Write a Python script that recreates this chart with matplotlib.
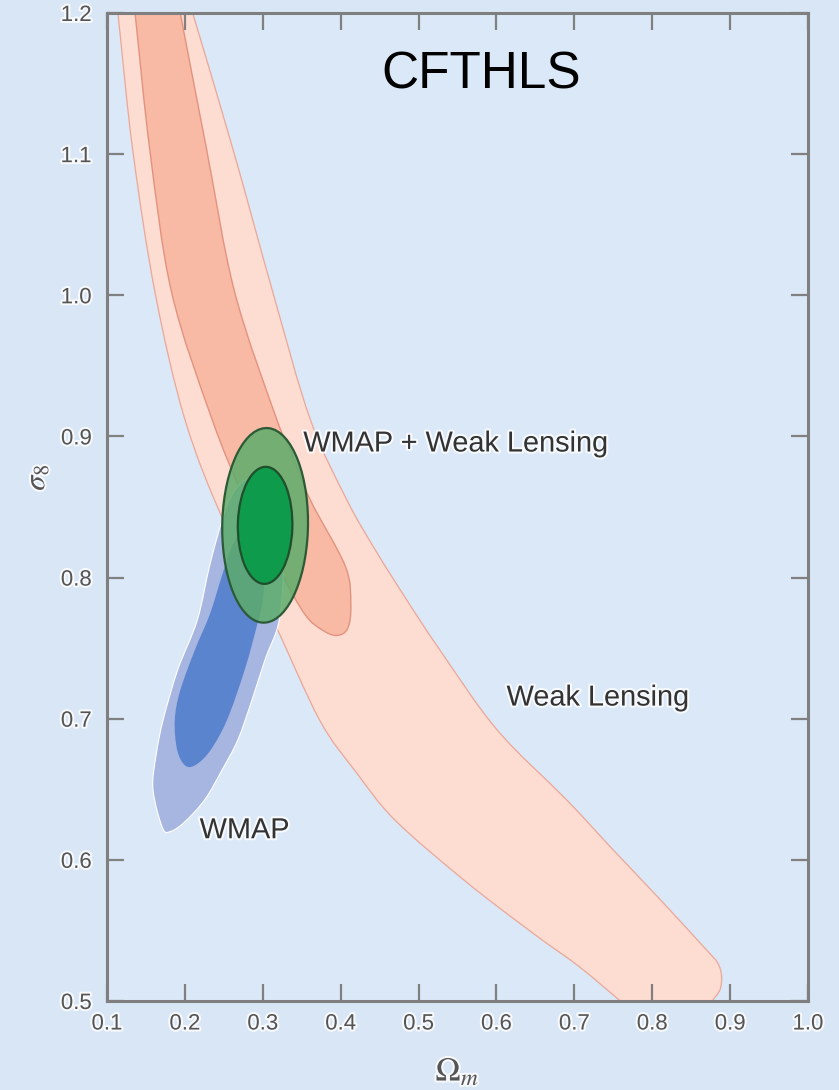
import matplotlib
matplotlib.use('Agg')
import matplotlib.pyplot as plt
import matplotlib.patheffects as pe
from matplotlib.patches import Ellipse, PathPatch
from matplotlib.path import Path
from matplotlib.colors import to_rgba
import numpy as np

plt.rcParams['font.family'] = ['Liberation Sans', 'DejaVu Sans']
plt.rcParams['mathtext.fontset'] = 'stix'

# weak lensing, outer (2 sigma) band: left edge going down, then right edge going up
wl_outer_om = [0.114, 0.133, 0.162, 0.200, 0.249, 0.313, 0.373, 0.420, 0.470, 0.562,
               0.647, 0.707, 0.759,
               0.877, 0.887, 0.889, 0.884, 0.870, 0.810, 0.750, 0.691, 0.601, 0.527,
               0.485, 0.444, 0.408, 0.361, 0.313, 0.262, 0.210]
wl_outer_s8 = [1.200, 1.103, 1.001, 0.912, 0.841, 0.770, 0.699, 0.662, 0.628, 0.584,
               0.548, 0.524, 0.500,
               0.500, 0.508, 0.518, 0.527, 0.536, 0.572, 0.607, 0.642, 0.692, 0.749,
               0.784, 0.820, 0.855, 0.912, 1.002, 1.103, 1.200]
wl_outer_corners = [0, 12, 13, 29]   # where the band meets the frame

# weak lensing, inner (1 sigma) band
wl_inner_om = [0.136, 0.155, 0.183, 0.235, 0.277, 0.322, 0.354, 0.376, 0.395,
               0.409, 0.413, 0.406, 0.361, 0.335, 0.318, 0.264, 0.228, 0.194]
wl_inner_s8 = [1.200, 1.103, 1.002, 0.912, 0.855, 0.805, 0.774, 0.763, 0.759,
               0.764, 0.781, 0.808, 0.855, 0.891, 0.912, 1.002, 1.103, 1.200]
wl_inner_corners = [0, 17]

# WMAP contours
wmap_outer_om = [0.171, 0.159, 0.163, 0.172, 0.191, 0.216, 0.232, 0.248, 0.261, 0.277,
                 0.299, 0.316, 0.325, 0.326, 0.320, 0.303, 0.286, 0.268, 0.248, 0.226,
                 0.200, 0.181]
wmap_outer_s8 = [0.623, 0.650, 0.674, 0.699, 0.735, 0.770, 0.809, 0.841, 0.859, 0.869,
                 0.869, 0.859, 0.834, 0.798, 0.767, 0.742, 0.713, 0.685, 0.664, 0.643,
                 0.627, 0.620]
wmap_inner_om = [0.200, 0.190, 0.187, 0.194, 0.213, 0.232, 0.248, 0.261, 0.277, 0.294,
                 0.303, 0.300, 0.293, 0.277, 0.254, 0.232, 0.213]
wmap_inner_s8 = [0.667, 0.678, 0.699, 0.720, 0.749, 0.774, 0.802, 0.823, 0.834, 0.830,
                 0.813, 0.784, 0.767, 0.735, 0.699, 0.677, 0.667]

# WMAP + weak lensing joint constraint (centre, full width, full height)
joint_center = (0.303, 0.837)
joint_outer_size = (0.110, 0.138)
joint_inner_size = (0.070, 0.083)

xticks = [0.1, 0.2, 0.3, 0.4, 0.5, 0.6, 0.7, 0.8, 0.9, 1.0]
xtick_labels = ['0.1', '0.2', '0.3', '0.4', '0.5', '0.6', '0.7', '0.8', '0.9', '1.0']
yticks = [0.5, 0.6, 0.7, 0.8, 0.9, 1.0, 1.1, 1.2]
ytick_labels = ['0.5', '0.6', '0.7', '0.8', '0.9', '1.0', '1.1', '1.2']

bg = '#d8e6f5'
glow = [pe.withStroke(linewidth=3, foreground='white', alpha=0.8)]


def smooth_outline(xs, ys, corners=()):
    # closed bezier outline through every read point, sharp at the given corners
    p = np.column_stack([xs, ys])
    n = len(p)
    verts = [p[0]]
    codes = [Path.MOVETO]
    for i in range(n):
        j = (i + 1) % n
        p0, p1, p2, p3 = p[i - 1], p[i], p[j], p[(i + 2) % n]
        c1 = p1 + ((p2 - p1) / 3 if i in corners else (p2 - p0) / 6)
        c2 = p2 - ((p2 - p1) / 3 if j in corners else (p3 - p1) / 6)
        verts += [c1, c2, p2]
        codes += [Path.CURVE4] * 3
    verts.append(p[0])
    codes.append(Path.CLOSEPOLY)
    return Path(verts, codes)


def add_region(ax, xs, ys, corners=(), **kw):
    ax.add_patch(PathPatch(smooth_outline(xs, ys, corners), **kw))


fig = plt.figure(figsize=(8.39, 10.90), dpi=100)
fig.patch.set_facecolor(bg)
ax = fig.add_axes([107 / 839, 89 / 1090, 701 / 839, 988 / 1090])
ax.set_facecolor('#dbe8f7')

add_region(ax, wl_outer_om, wl_outer_s8, wl_outer_corners,
           facecolor='#fddcd2', edgecolor='#eba797', lw=0.9, zorder=1)
add_region(ax, wl_inner_om, wl_inner_s8, wl_inner_corners,
           facecolor='#f8baa4', edgecolor='#e2937f', lw=1.0, zorder=2)
add_region(ax, wmap_outer_om, wmap_outer_s8,
           facecolor='#a7b5e1', edgecolor='white', lw=0.8, zorder=3)
add_region(ax, wmap_inner_om, wmap_inner_s8,
           facecolor='#5b84cf', edgecolor='none', zorder=4)

ax.add_patch(Ellipse(joint_center, *joint_outer_size, angle=-4,
                     facecolor=to_rgba('#5dac6b', 0.85), edgecolor='#2c5a36', lw=1.6, zorder=5))
ax.add_patch(Ellipse(joint_center, *joint_inner_size, angle=-4,
                     facecolor='#0e9b4b', edgecolor='#1f4f2c', lw=1.6, zorder=6))

ax.text(0.580, 1.156, 'CFTHLS', fontsize=37, color='black', ha='center', va='center', zorder=10)
ax.text(0.352, 0.895, 'WMAP + Weak Lensing', fontsize=20.8, color='#333333',
        va='center', path_effects=glow, zorder=10)
ax.text(0.613, 0.715, 'Weak Lensing', fontsize=20.8, color='#333333',
        va='center', path_effects=glow, zorder=10)
ax.text(0.219, 0.621, 'WMAP', fontsize=20.8, color='#333333',
        va='center', path_effects=glow, zorder=10)

ax.set_xlim(0.1, 1.0)
ax.set_ylim(0.5, 1.2)
ax.set_xticks(xticks)
ax.set_xticklabels(xtick_labels)
ax.set_yticks(yticks)
ax.set_yticklabels(ytick_labels)
ax.tick_params(direction='in', length=12, width=1.6, color='#808080', top=True, right=True,
               labelsize=16, labelcolor='#555555')
ax.tick_params(axis='x', pad=9)
ax.tick_params(axis='y', pad=11)
for lab in ax.get_xticklabels() + ax.get_yticklabels():
    lab.set_path_effects(glow)

for s in ax.spines.values():
    s.set_color('#7f7f7f')
    s.set_linewidth(2.2)
    s.set_zorder(8)

ax.text(0.5, -0.072, r'$\Omega_m$', transform=ax.transAxes, fontsize=24, color='#555555',
        ha='center', va='center', path_effects=glow)
ax.text(-0.101, 0.53, r'$\sigma_8$', transform=ax.transAxes, fontsize=22, color='#555555',
        ha='center', va='center', rotation=90, path_effects=glow)

fig.savefig('out.png', dpi=100, facecolor=bg)
